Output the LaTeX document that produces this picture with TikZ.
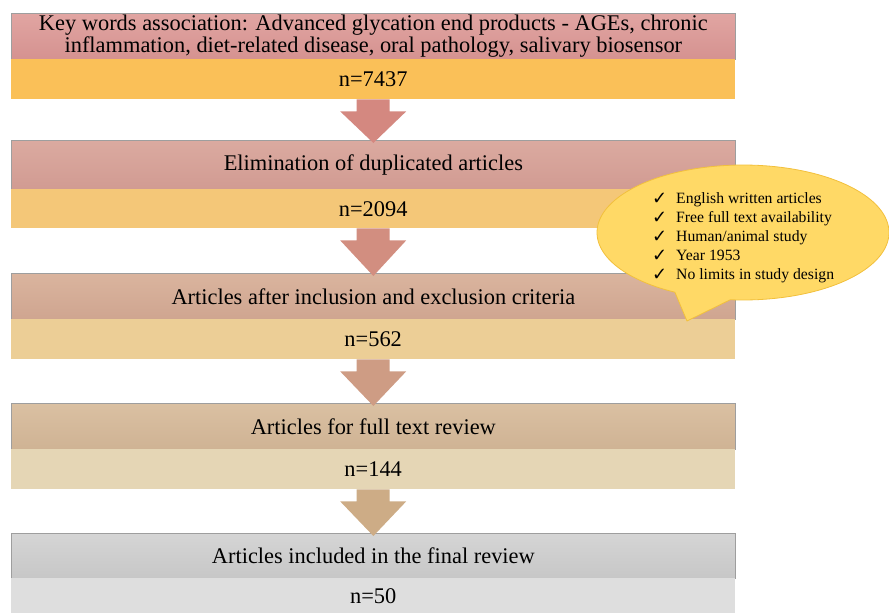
\documentclass[tikz,border=0pt]{standalone}
\usepackage{fontspec}
\setmainfont{Liberation Serif}
\newfontfamily\symfont{DejaVu Sans}
\usetikzlibrary{calc}
\definecolor{hAt}{RGB}{225,165,162}\definecolor{hAb}{RGB}{213,146,144}
\definecolor{lA}{RGB}{250,192,88}\definecolor{aA}{RGB}{212,136,128}
\definecolor{hBt}{RGB}{219,170,160}\definecolor{hBb}{RGB}{209,155,146}
\definecolor{lB}{RGB}{244,199,120}\definecolor{aB}{RGB}{210,142,128}
\definecolor{hCt}{RGB}{218,180,158}\definecolor{hCb}{RGB}{207,165,144}
\definecolor{lC}{RGB}{236,206,150}\definecolor{aC}{RGB}{206,156,132}
\definecolor{hDt}{RGB}{218,192,162}\definecolor{hDb}{RGB}{207,179,148}
\definecolor{lD}{RGB}{229,214,181}\definecolor{aD}{RGB}{205,172,134}
\definecolor{hEt}{RGB}{213,213,213}\definecolor{hEb}{RGB}{199,199,199}
\definecolor{lE}{RGB}{222,222,222}
\definecolor{callfill}{RGB}{255,217,102}\definecolor{callline}{RGB}{242,192,60}
\newcommand\chk{\makebox[24pt][l]{\raisebox{-0.5pt}{\symfont\fontsize{18}{18}\selectfont ✓}}}
\begin{document}
\begin{tikzpicture}[x=1pt,y=-1pt,
  hdr/.style={rectangle, draw=black!38, line width=0.7pt, minimum width=724pt,
    anchor=north west, inner sep=0pt, align=center, font=\fontsize{22.4}{23}\selectfont},
  low/.style={rectangle, minimum width=724pt, anchor=north west, inner sep=0pt,
    font=\fontsize{22.4}{23}\selectfont},
  callout/.style={fill=callfill, draw=callline, line width=0.8pt, line join=round},
  crittext/.style={anchor=west, align=left, inner sep=0pt, font=\fontsize{15.7}{19}\selectfont}]
\useasboundingbox (0,0) rectangle (889,613);
% boxes
\node[hdr, top color=hAt, bottom color=hAb, minimum height=46pt] (h1) at (11,13)
  {\raisebox{-1.5pt}{Key words association: Advanced glycation end products - AGEs, chronic}\\
   inflammation, diet-related disease, oral pathology, salivary biosensor};
\node[low, fill=lA, minimum height=40pt] (l1) at (11,59) {n=7437};
\node[hdr, top color=hBt, bottom color=hBb, minimum height=49pt] (h2) at (11,140)
  {Elimination of duplicated articles};
\node[low, fill=lB, minimum height=39pt] (l2) at (11,189) {n=2094};
\node[hdr, top color=hCt, bottom color=hCb, minimum height=46pt] (h3) at (11,273)
  {Articles after inclusion and exclusion criteria};
\node[low, fill=lC, minimum height=40pt] (l3) at (11,319) {n=562};
\node[hdr, top color=hDt, bottom color=hDb, minimum height=46pt] (h4) at (11,403)
  {Articles for full text review};
\node[low, fill=lD, minimum height=40pt] (l4) at (11,449) {n=144};
\node[hdr, top color=hEt, bottom color=hEb, minimum height=45pt] (h5) at (11,533)
  {Articles included in the final review};
\node[low, fill=lE, minimum height=35pt] (l5) at (11,578) {n=50};
% block arrows
\foreach \u/\v/\c in {l1/h2/aA, l2/h3/aB, l3/h4/aC, l4/h5/aD}{
  \fill[\c] ($(\u.south)+(-16.5,0)$) -- ($(\u.south)+(16.5,0)$)
    -- ($(\u.south)+(16.5,12)$) -- ($(\u.south)+(33,12)$)
    -- ($(\v.north)+(0,3)$)
    -- ($(\u.south)+(-33,12)$) -- ($(\u.south)+(-16.5,12)$) -- cycle;
}
% callout
\filldraw[callout] (674.9,292.2) -- (687,321) -- (730.3,299.7)
  -- plot[domain=95:-242.2, samples=150] ({743+146*cos(\x)},{232.5+67.5*sin(\x)}) -- cycle;
\node[crittext] (crit) at (652,238)
  {\chk English written articles\\
   \chk Free full text availability\\
   \chk Human/animal study\\
   \chk Year 1953\\
   \chk No limits in study design};
\end{tikzpicture}
\end{document}
